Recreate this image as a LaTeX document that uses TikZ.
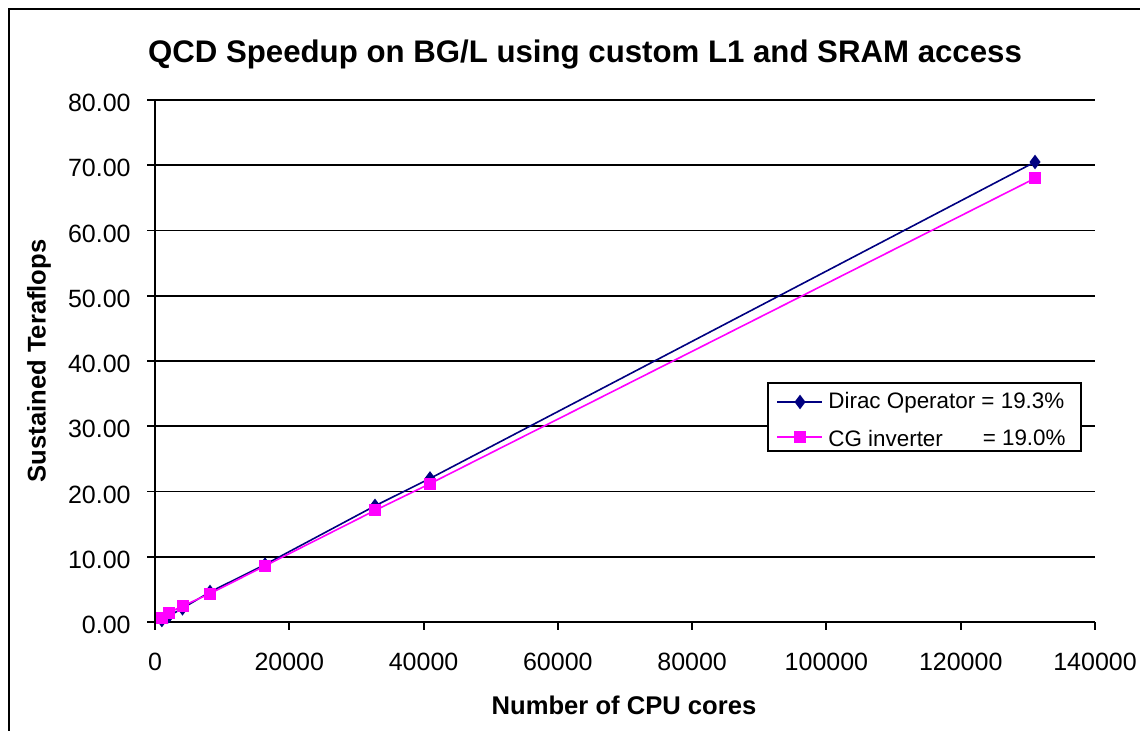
\documentclass[tikz,border=0pt]{standalone}
\usepackage{fontspec}
\setmainfont{Liberation Sans}
\usetikzlibrary{plotmarks}
\definecolor{diracblue}{RGB}{0,0,128}
\definecolor{cgpink}{RGB}{255,0,255}
\tikzset{
  axisline/.style={line width=1pt, black},
  gridline/.style={line width=0.9pt, black},
  ticklabel/.style={font=\fontsize{12.5}{15}\selectfont, inner sep=0pt},
  legendlabel/.style={font=\fontsize{11.2}{13}\selectfont, inner sep=0pt},
  axislabel/.style={font=\fontsize{12.8}{15}\selectfont\bfseries, inner sep=0pt},
  diracline/.style={line width=0.8pt, diracblue, mark=diamond*, mark size=3pt,
    mark options={fill=diracblue, draw=diracblue}},
  cgline/.style={line width=0.8pt, cgpink, mark=square*, mark size=2.6pt,
    mark options={fill=cgpink, draw=cgpink}}
}
\begin{document}
\begin{tikzpicture}[x=0.5pt, y=-0.5pt]
    \useasboundingbox (0,0) rectangle (1140,731);
    % outer frame
    \draw[line width=1.3pt] (9,731) -- (9,9) -- (1140,9);

    \node[font=\fontsize{15.6}{18}\selectfont\bfseries] (title) at (585,55)
        {QCD Speedup on BG/L using custom L1 and SRAM access};

    % grid and y ticks
    \foreach \t in {0,10,...,80}{
        \pgfmathsetmacro{\yy}{622-6.525*\t}
        \draw[gridline] (147,\yy) -- (1095,\yy);
        \node[ticklabel, anchor=east] (ylab\t) at (131,\yy+3) {\t.00};
    }
    \draw[axisline] (155,100) -- (155,622);
    % x ticks
    \foreach \c in {0,20,...,140}{
        \pgfmathsetmacro{\xx}{155+\c/140*940}
        \draw[axisline] (\xx,622) -- (\xx,630);
        \node[ticklabel] (xlab\c) at (\xx,662) {\ifnum\c=0 0\else\c000\fi};
    }

    \node[axislabel] (xtitle) at (624,705) {Number of CPU cores};
    \node[axislabel, rotate=90] (ytitle) at (39,361) {Sustained Teraflops};

    % data, cores in thousands
    \begin{scope}[shift={(155,622)}, x=3.357pt, y=3.2625pt]
        \draw[diracline] plot coordinates {(1.024,0.3) (2.048,0.9) (4.096,2.1)
            (8.192,4.6) (16.384,8.8) (32.768,17.8) (40.96,22.0) (131.072,70.5)};
        \draw[cgline] plot coordinates {(1.024,0.6) (2.048,1.4) (4.096,2.45)
            (8.192,4.35) (16.384,8.6) (32.768,17.1) (40.96,21.2) (131.072,68.0)};
    \end{scope}

    % legend
    \draw[line width=1pt, fill=white] (768,383) rectangle (1081,451);
    \draw[diracline, mark=none] (777,402) -- (822,402);
    \draw[diracline] plot coordinates {(800,402)};
    \node[legendlabel, anchor=west] (legdirac) at (828,403) {Dirac Operator = 19.3\%};
    \draw[cgline, mark=none] (777,437) -- (822,437);
    \draw[cgline] plot coordinates {(800,437)};
    \node[legendlabel, anchor=west] (legcg) at (828,438) {CG inverter};
    \node[legendlabel, anchor=east] (legcgval) at (1066,438) {= 19.0\%};
\end{tikzpicture}
\end{document}
